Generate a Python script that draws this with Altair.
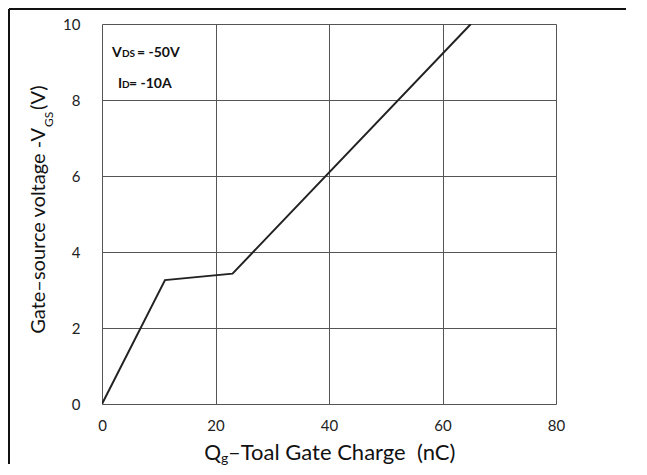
import altair as alt
import pandas as pd

# Gate charge curve (nC, V)
qg = [0, 11.1, 23.0, 65.0]
vgs = [0, 3.26, 3.43, 10.0]

x_ticks = [0, 20, 40, 60, 80]
y_ticks = [0, 2, 4, 6, 8, 10]

W, H = 454, 380
FONT = "Lato"

df = pd.DataFrame({"qg": qg, "vgs": vgs})

xs = alt.Scale(domain=[0, 80], nice=False)
ys = alt.Scale(domain=[0, 10], nice=False)

line = alt.Chart(df).mark_line(color="#222222", strokeWidth=2, clip=True).encode(
    x=alt.X("qg:Q", scale=xs,
            axis=alt.Axis(values=x_ticks, title=None, grid=True, gridColor="#555555",
                          gridWidth=1, ticks=False, domain=False, labelPadding=14,
                          labelFlush=False,
                          labelFontSize=15, labelFont=FONT, labelColor="#222222")),
    y=alt.Y("vgs:Q", scale=ys,
            axis=alt.Axis(values=y_ticks, title=None, grid=True, gridColor="#555555",
                          gridWidth=1, ticks=False, domain=False, labelPadding=22,
                          labelFlush=False,
                          labelFontSize=15, labelFont=FONT, labelColor="#222222")),
)

def txt(text, x, y, size, angle=0, bold=False, align="left", baseline="alphabetic"):
    kw = dict(text=text, fontSize=size, font=FONT, color="#111111", align=align,
              baseline=baseline)
    if angle:
        kw["angle"] = angle
    if bold:
        kw["fontWeight"] = "bold"
    return alt.Chart(pd.DataFrame({"a": [0]})).mark_text(**kw).encode(
        x=alt.value(x), y=alt.value(y))

# x-axis title: Q_g–Toal Gate Charge  (nC)
xt = [
    txt("Q", 119, 436, 21, align="right"),
    txt("g", 119, 439, 14),
    txt("–Toal Gate Charge \u00a0(nC)", 126, 436, 22),
]
# y-axis title: Gate–source voltage -V_GS (V)
yt = [
    txt("Gate–source voltage -V", -57, 104, 20, angle=270, align="right"),
    txt("GS", -49, 103, 12, angle=270),
    txt("(V)", -57, 86, 20, angle=270),
]
# annotations
ann = [
    txt("V", 10, 33, 14, bold=True),
    txt("DS", 20, 33, 10, bold=True),
    txt("= -50V", 35, 33, 14, bold=True),
    txt("I", 16, 64, 14, bold=True),
    txt("D", 20, 64, 10, bold=True),
    txt("= -10A", 27, 64, 14, bold=True),
]
# page border lines (top and left)
one = pd.DataFrame({"a": [0]})
border = [
    alt.Chart(one).mark_rule(color="#111111", strokeWidth=2).encode(
        x=alt.value(-93), x2=alt.value(W + 70), y=alt.value(-15)),
    alt.Chart(one).mark_rule(color="#111111", strokeWidth=2).encode(
        x=alt.value(-93), x2=alt.value(-93), y=alt.value(-15), y2=alt.value(H + 60)),
]

chart = alt.layer(line, *xt, *yt, *ann, *border).properties(
    width=W, height=H,
    autosize=alt.AutoSizeParams(type="none"),
    padding={"left": 94, "top": 16, "right": 70, "bottom": 64},
).configure_view(stroke="#111111", strokeWidth=2).configure(background="white")

chart.save("out.html", embed_options={"renderer": "svg", "actions": False})
